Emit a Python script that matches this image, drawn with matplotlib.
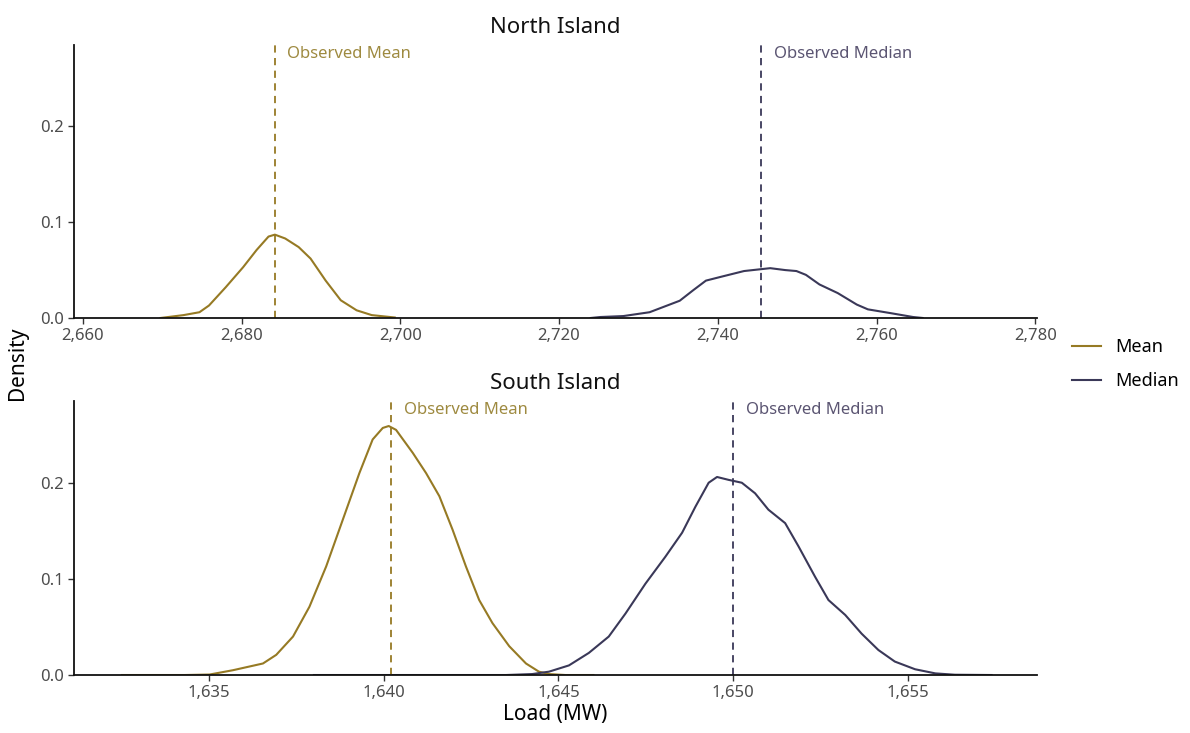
import matplotlib
matplotlib.use("Agg")
import matplotlib.pyplot as plt
from matplotlib.ticker import StrMethodFormatter, FormatStrFormatter

plt.rcParams['font.family'] = ['Noto Sans', 'DejaVu Sans']

# ---- data ----
# North Island, distribution of simulated means
north_mean_x = [2669.8, 2672.7, 2674.7, 2675.9, 2678.0, 2680.2, 2681.9, 2683.4, 2684.2,
                2685.5, 2687.2, 2688.7, 2690.6, 2692.5, 2694.5, 2696.4, 2699.3]
north_mean_d = [0.0, 0.003, 0.006, 0.013, 0.032, 0.053, 0.071, 0.085, 0.087,
                0.083, 0.074, 0.062, 0.039, 0.0185, 0.008, 0.003, 0.0005]
# North Island, distribution of simulated medians
north_median_x = [2724.0, 2725.2, 2728.1, 2731.4, 2735.2, 2736.9, 2738.5, 2740.4, 2743.3,
                  2745.5, 2746.6, 2748.5, 2749.9, 2751.1, 2752.8, 2755.1, 2757.5,
                  2758.9, 2761.8, 2764.6, 2765.8]
north_median_d = [0.0, 0.001, 0.002, 0.006, 0.018, 0.029, 0.039, 0.043, 0.049,
                  0.051, 0.052, 0.050, 0.049, 0.045, 0.035, 0.026, 0.014,
                  0.009, 0.005, 0.001, 0.0]
# South Island
south_mean_x = [1632.5, 1634.3, 1635.01, 1635.68, 1636.54, 1636.92, 1637.40, 1637.87, 1638.35,
                1638.82, 1639.30, 1639.68, 1639.97, 1640.14, 1640.35, 1640.83, 1641.21,
                1641.59, 1641.97, 1642.35, 1642.73, 1643.11, 1643.59, 1644.07, 1644.44,
                1644.73, 1645.2, 1646.0]
south_mean_d = [0.0, 0.0, 0.0005, 0.005, 0.012, 0.021, 0.040, 0.071, 0.113,
                0.161, 0.210, 0.245, 0.257, 0.259, 0.255, 0.231, 0.210,
                0.186, 0.151, 0.113, 0.078, 0.054, 0.030, 0.012, 0.0035,
                0.001, 0.0, 0.0]
south_median_x = [1638.0, 1643.5, 1644.25, 1644.73, 1645.30, 1645.87, 1646.44, 1646.92, 1647.49,
                  1648.06, 1648.54, 1648.92, 1649.30, 1649.54, 1649.87, 1650.25, 1650.63,
                  1651.01, 1651.49, 1651.87, 1652.35, 1652.73, 1653.21, 1653.68, 1654.16,
                  1654.63, 1655.21, 1655.79, 1656.35, 1657.4]
south_median_d = [0.0, 0.0, 0.001, 0.0035, 0.010, 0.023, 0.040, 0.064, 0.095,
                  0.123, 0.148, 0.175, 0.200, 0.206, 0.203, 0.200, 0.189,
                  0.172, 0.158, 0.134, 0.102, 0.078, 0.0625, 0.043, 0.026,
                  0.014, 0.006, 0.0017, 0.0003, 0.0]

north_observed_mean = 2684.2
north_observed_median = 2745.5
south_observed_mean = 1640.21
south_observed_median = 1650.0

north_ticks = [2660, 2680, 2700, 2720, 2740, 2760, 2780]
south_ticks = [1635, 1640, 1645, 1650, 1655]
density_ticks = [0.0, 0.1, 0.2]

mean_color = "#967A24"
median_color = "#3A3858"
mean_text_color = "#9E8A40"
median_text_color = "#5B5572"

fig = plt.figure(figsize=(11.9, 7.33), dpi=100)
ax_n = fig.add_axes([0.0622, 0.5662, 0.8092, 0.3724])
ax_s = fig.add_axes([0.0622, 0.0791, 0.8092, 0.3738])

panels = [
    (ax_n, "North Island", north_mean_x, north_mean_d, north_median_x, north_median_d,
     north_observed_mean, north_observed_median, north_ticks, (2658.9, 2780.2)),
    (ax_s, "South Island", south_mean_x, south_mean_d, south_median_x, south_median_d,
     south_observed_mean, south_observed_median, south_ticks, (1631.13, 1658.7)),
]

for ax, title, mx, md, dx, dd, obs_mean, obs_median, ticks, xlim in panels:
    ax.plot(mx, md, color=mean_color, lw=1.5, label="Mean")
    ax.plot(dx, dd, color=median_color, lw=1.5, label="Median")
    ax.axvline(obs_mean, color=mean_color, lw=1.3, ls=(0, (4, 3)))
    ax.axvline(obs_median, color=median_color, lw=1.3, ls=(0, (4, 3)))
    ax.annotate("Observed Mean", xy=(obs_mean, 0.276), xytext=(9, 0),
                textcoords="offset points", va="center", ha="left",
                color=mean_text_color, fontsize=12)
    ax.annotate("Observed Median", xy=(obs_median, 0.276), xytext=(9, 0),
                textcoords="offset points", va="center", ha="left",
                color=median_text_color, fontsize=12)

    ax.set_xlim(*xlim)
    ax.set_ylim(0, 0.285)
    ax.set_xticks(ticks)
    ax.set_yticks(density_ticks)
    ax.xaxis.set_major_formatter(StrMethodFormatter("{x:,.0f}"))
    ax.yaxis.set_major_formatter(FormatStrFormatter("%.1f"))
    ax.set_title(title, fontsize=16, pad=9, color="#111111")

    for side in ["top", "right"]:
        ax.spines[side].set_visible(False)
    for side in ["left", "bottom"]:
        ax.spines[side].set_linewidth(1.3)
        ax.spines[side].set_color("#111111")
    ax.tick_params(direction="out", length=4, width=1.0, color="#333333",
                   labelcolor="#4D4D4D", labelsize=12)

ax_s.set_xlabel("Load (MW)", fontsize=15, labelpad=2)
fig.text(0.015, 0.505, "Density", rotation=90, va="center", ha="center", fontsize=15)

handles, labels = ax_n.get_legend_handles_labels()
fig.legend(handles, labels, loc="center left", bbox_to_anchor=(0.887, 0.503),
           frameon=False, fontsize=13, handlelength=1.6, handletextpad=0.8,
           labelspacing=0.9)

fig.savefig("out.png", dpi=100)
